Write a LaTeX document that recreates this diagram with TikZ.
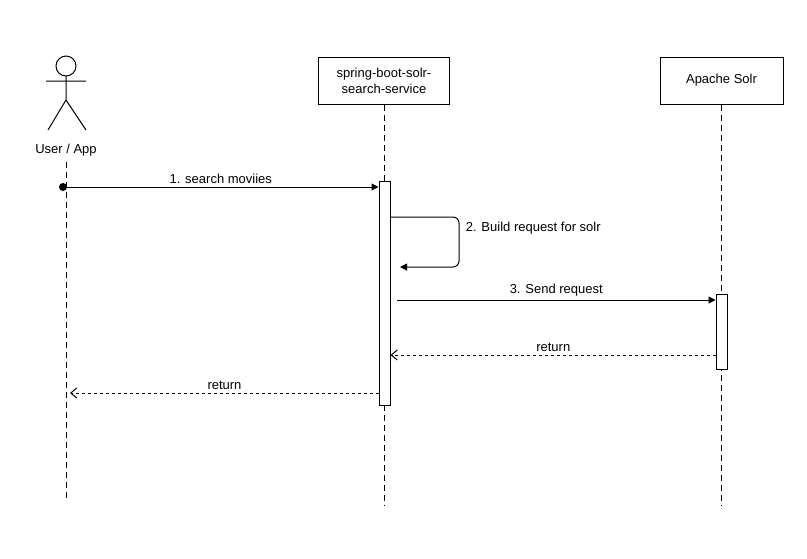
\documentclass[tikz,border=0pt]{standalone}
\usepackage{fontspec}
\setmainfont{Liberation Sans}
\usetikzlibrary{arrows.meta,positioning}
\begin{document}
\begin{tikzpicture}[x=1pt,y=-1pt,line width=1pt,
  font=\fontsize{13}{16}\selectfont,
  box/.style={draw,minimum width=131,minimum height=47,align=center,inner sep=0},
  act/.style={draw,fill=white,minimum width=11,inner sep=0},
  life/.style={dash pattern=on 6pt off 4pt},
  msg/.style={-{Triangle[length=7pt,width=7pt]}},
  ret/.style={dash pattern=on 3pt off 3pt,-{Straight Barb[length=6pt,width=10pt]}},
  lbl/.style={above,inner sep=3pt}]
\useasboundingbox (0,0) rectangle (807,558);

% actor
\draw (66,66) circle (10);
\draw (66,76) -- (66,100) (46,81) -- (86,81) (48,130) -- (66,100) -- (86,130);
\node (user) at (66,150) {User / App};
\coordinate (userbot) at (66,500);
\draw[life] (66,162) -- (userbot);

% participants
\node[box] (svc) at (384,80.5) {spring-boot-solr-\\search-service};
\node[box,minimum width=123] (solr) at (721.5,80.5) {Apache Solr};
\coordinate (svcbot) at (384,505);
\coordinate (solrbot) at (721.5,505);
\draw[life] (svc.south) -- (svcbot);
\draw[life] (solr.south) -- (solrbot);

% activations
\node[act,minimum height=224] (svcact) at (384.5,293) {};
\node[act,minimum height=75] (solract) at (721.5,331.5) {};

% messages
\coordinate (start) at (63,187);
\fill (start) circle (4);
\draw[msg] (start) -- node[lbl] {1. search moviies} (svcact.west |- start);
\coordinate (selfa) at (390,217);
\coordinate (selfb) at (400,267);
\draw[msg,rounded corners=6] (selfa) -- (459,217) -- (459,267) -- (selfb);
\node[right] (selflbl) at (462,228) {2. Build request for solr};
\coordinate (req) at (397,300);
\draw[msg] (req) -- node[lbl] {3. Send request} (solract.west |- req);
\coordinate (reta) at (716,355);
\draw[ret] (reta) -- node[lbl] {return} (svcact.east |- reta);
\coordinate (retb) at (379,393);
\draw[ret] (retb) -- node[lbl] {return} (70,393);
\end{tikzpicture}
\end{document}
